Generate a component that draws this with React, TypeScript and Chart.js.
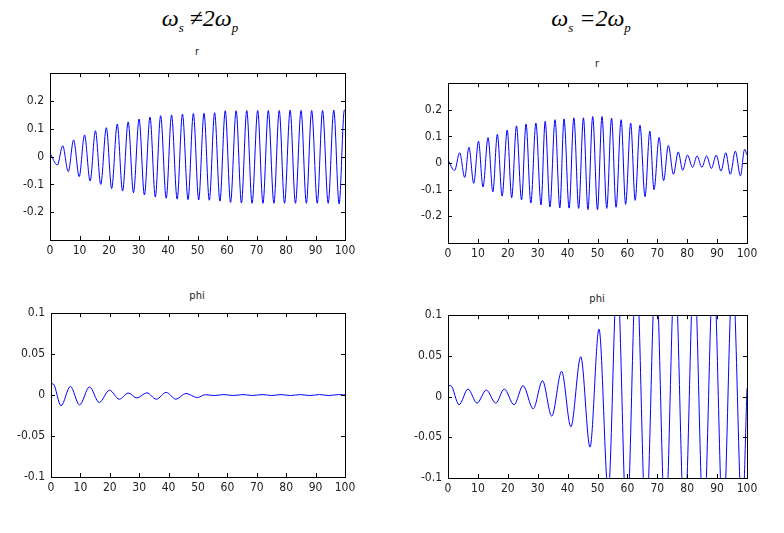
import React, { useEffect, useRef } from 'react';
import { Chart, registerables } from 'chart.js';

Chart.register(...registerables);

// ---------- data (extrema) ----------
const xTicks = [0, 10, 20, 30, 40, 50, 60, 70, 80, 90, 100];
const rTicks = [-0.2, -0.1, 0, 0.1, 0.2];
const phiTicks = [-0.1, -0.05, 0, 0.05, 0.1];

// r, ws != 2wp
const r1T = [0, 2.5, 4.3, 6.2, 8.0, 9.9, 11.7, 13.6, 15.4, 17.2, 19.1, 20.9, 22.8, 24.6, 26.5, 28.3, 30.2, 32.0, 33.9, 35.7, 37.5, 39.4, 41.2, 43.1, 44.9, 46.8, 48.6, 50.4, 52.2, 54.0, 55.8, 57.6, 59.4, 61.2, 63.1, 64.9, 66.7, 68.5, 70.4, 72.2, 74.0, 75.9, 77.7, 79.5, 81.4, 83.2, 85.1, 86.9, 88.7, 90.6, 92.4, 94.3, 96.2, 98.0, 99.8, 100];
const r1V = [0.012, -0.03, 0.039, -0.054, 0.06, -0.072, 0.078, -0.088, 0.093, -0.1, 0.104, -0.115, 0.117, -0.124, 0.125, -0.13, 0.135, -0.138, 0.142, -0.145, 0.147, -0.15, 0.15, -0.153, 0.153, -0.155, 0.155, -0.156, 0.156, -0.157, 0.158, -0.16, 0.165, -0.165, 0.165, -0.167, 0.166, -0.168, 0.166, -0.168, 0.166, -0.168, 0.166, -0.168, 0.167, -0.168, 0.166, -0.168, 0.166, -0.168, 0.166, -0.168, 0.167, -0.17, 0.168, 0.166];

// r, ws = 2wp
const r2T = [0, 2.2, 3.9, 5.6, 7.0, 8.6, 10.2, 11.7, 13.4, 15.0, 16.5, 18.1, 19.8, 21.3, 22.9, 24.6, 26.1, 27.7, 29.4, 31.1, 32.5, 34.1, 35.8, 37.4, 38.8, 40.5, 42.1, 43.7, 45.3, 46.8, 48.4, 50.0, 51.5, 53.1, 54.7, 56.2, 57.9, 59.4, 61.1, 62.6, 64.2, 65.9, 67.5, 68.9, 70.6, 72.1, 73.7, 75.4, 77.0, 78.5, 80.1, 81.8, 83.3, 84.9, 86.5, 88.1, 89.7, 91.3, 92.9, 94.4, 96.1, 97.8, 99.2, 100];
const r2V = [0.012, -0.028, 0.039, -0.054, 0.06, -0.076, 0.082, -0.09, 0.096, -0.108, 0.108, -0.124, 0.124, -0.13, 0.14, -0.138, 0.147, -0.15, 0.15, -0.157, 0.157, -0.165, 0.163, -0.168, 0.166, -0.169, 0.17, -0.17, 0.17, -0.175, 0.175, -0.175, 0.175, -0.17, 0.169, -0.166, 0.163, -0.155, 0.15, -0.14, 0.142, -0.126, 0.12, -0.1, 0.096, -0.066, 0.066, -0.042, 0.042, -0.027, 0.03, -0.016, 0.027, -0.016, 0.027, -0.02, 0.03, -0.03, 0.039, -0.042, 0.045, -0.048, 0.052, 0.03];

// phi, ws != 2wp
const p1T = [0, 0.8, 3.4, 6.6, 9.7, 13.1, 16.4, 19.9, 23.2, 26.3, 29.2, 32.6, 35.8, 39.2, 42.5, 45.9, 49.8, 52.5, 55.5, 58.8, 62.0, 65.3, 68.5, 71.8, 75.0, 78.3, 81.5, 84.8, 88.0, 91.3, 94.5, 97.8, 100];
const p1V = [0.014, 0.0135, -0.013, 0.0106, -0.012, 0.010, -0.009, 0.006, -0.005, 0.0025, -0.0035, 0.0028, -0.005, 0.0033, -0.005, 0.002, -0.003, 0.0005, -0.0005, 0.0006, -0.0005, 0.0006, -0.0005, 0.0006, -0.0005, 0.0006, -0.0005, 0.0006, -0.0005, 0.0006, -0.0005, 0.0006, 0.0002];

// phi, ws = 2wp
const p2T = [0, 0.9, 3.7, 6.7, 9.7, 12.8, 16.0, 18.8, 22.1, 25.1, 28.5, 31.6, 34.7, 38.0, 41.1, 44.4, 47.5, 50.5, 53.6, 56.6, 59.8, 63.0, 66.2, 69.5, 72.7, 75.9, 79.1, 82.3, 85.5, 88.8, 92.0, 95.2, 98.4, 100];
const p2V = [0.0134, 0.0134, -0.010, 0.0093, -0.008, 0.008, -0.008, 0.0093, -0.010, 0.0134, -0.015, 0.0195, -0.024, 0.031, -0.037, 0.049, -0.062, 0.083, -0.117, 0.15, -0.16, 0.16, -0.16, 0.16, -0.16, 0.16, -0.16, 0.16, -0.16, 0.16, -0.16, 0.15, -0.15, 0.01];

// ---------- styling ----------
const FONT = '"Liberation Sans Narrow", "DejaVu Sans Condensed", "Liberation Sans", Arial, sans-serif';

const boxPlugin = {
  id: 'matlabBox',
  afterDatasetsDraw(chart: any) {
    const { ctx, chartArea, scales } = chart;
    const { left, right, top, bottom } = chartArea;
    const x = scales.x;
    const y = scales.y;
    const tl = 4;
    ctx.save();
    ctx.strokeStyle = '#000';
    ctx.lineWidth = 1;
    ctx.beginPath();
    x.ticks.forEach((t: any) => {
      const px = Math.round(x.getPixelForValue(t.value)) + 0.5;
      ctx.moveTo(px, bottom);
      ctx.lineTo(px, bottom - tl);
      ctx.moveTo(px, top);
      ctx.lineTo(px, top + tl);
    });
    y.ticks.forEach((t: any) => {
      const py = Math.round(y.getPixelForValue(t.value)) + 0.5;
      ctx.moveTo(left, py);
      ctx.lineTo(left + tl, py);
      ctx.moveTo(right, py);
      ctx.lineTo(right - tl, py);
    });
    ctx.stroke();
    ctx.strokeRect(Math.round(left) + 0.5, Math.round(top) + 0.5, Math.round(right - left), Math.round(bottom - top));
    ctx.restore();
  },
};

function makeConfig(t: number[], v: number[], yMin: number, yMax: number, yTicks: number[], yw: number, padTop: number, padRight: number) {
  return {
    type: 'line',
    data: {
      datasets: [
        {
          data: t.map((x, i) => ({ x, y: v[i] })),
          borderColor: '#0000ff',
          borderWidth: 1,
          pointRadius: 0,
          cubicInterpolationMode: 'monotone',
          fill: false,
        },
      ],
    },
    options: {
      animation: false,
      responsive: false,
      layout: { padding: { top: padTop, right: padRight, left: 0, bottom: 0 } },
      plugins: { legend: { display: false }, tooltip: { enabled: false }, title: { display: false } },
      elements: { line: { capBezierPoints: false } },
      scales: {
        x: {
          type: 'linear',
          min: 0,
          max: 100,
          afterBuildTicks: (s: any) => {
            s.ticks = xTicks.map((value) => ({ value }));
          },
          afterFit: (s: any) => {
            s.height = 22;
          },
          grid: { display: false, drawTicks: false },
          border: { display: false },
          ticks: {
            font: { family: FONT, size: 12 },
            color: '#222',
            padding: 4,
            maxRotation: 0,
            autoSkip: false,
            callback: (val: any) => String(val),
          },
        },
        y: {
          type: 'linear',
          min: yMin,
          max: yMax,
          afterBuildTicks: (s: any) => {
            s.ticks = yTicks.map((value) => ({ value }));
          },
          afterFit: (s: any) => {
            s.width = yw;
          },
          grid: { display: false, drawTicks: false },
          border: { display: false },
          ticks: {
            font: { family: FONT, size: 12 },
            color: '#222',
            padding: 6,
            autoSkip: false,
            callback: (val: any) => String(val),
          },
        },
      },
    },
    plugins: [boxPlugin],
  };
}

type PanelProps = { cfg: any; left: number; top: number; width: number; height: number };

function Panel({ cfg, left, top, width, height }: PanelProps) {
  const ref = useRef<HTMLCanvasElement>(null);
  useEffect(() => {
    const chart = new Chart(ref.current as HTMLCanvasElement, cfg);
    return () => chart.destroy();
  }, []);
  return (
    <canvas
      ref={ref}
      width={width}
      height={height}
      style={{ position: 'absolute', left, top, width, height, display: 'block' }}
    />
  );
}

const smallTitle: React.CSSProperties = {
  position: 'absolute',
  transform: 'translate(-50%, -50%)',
  fontFamily: FONT,
  fontSize: 11,
  color: '#222',
  whiteSpace: 'nowrap',
  lineHeight: 1,
};

const bigTitle: React.CSSProperties = {
  position: 'absolute',
  transform: 'translate(-50%, -50%)',
  fontFamily: '"Liberation Serif", "DejaVu Serif", serif',
  fontStyle: 'italic',
  fontSize: 24,
  color: '#000',
  whiteSpace: 'nowrap',
  lineHeight: 1,
};

const subStyle: React.CSSProperties = { fontSize: 13, verticalAlign: 'sub', lineHeight: 1 };

export default function App() {
  return (
    <div style={{ position: 'absolute', left: 0, top: 0, width: 784, height: 533, background: '#fff', overflow: 'hidden' }}>
      <div style={{ ...bigTitle, left: 200, top: 20 }}>
        ω<span style={subStyle}>s</span> ≠2ω<span style={subStyle}>p</span>
      </div>
      <div style={{ ...bigTitle, left: 591, top: 20 }}>
        ω<span style={subStyle}>s</span> =2ω<span style={subStyle}>p</span>
      </div>

      <div style={{ ...smallTitle, left: 197, top: 51 }}>r</div>
      <div style={{ ...smallTitle, left: 597, top: 63 }}>r</div>
      <div style={{ ...smallTitle, left: 197, top: 295 }}>phi</div>
      <div style={{ ...smallTitle, left: 597, top: 298 }}>phi</div>

      <Panel cfg={makeConfig(r1T, r1V, -0.3, 0.3, rTicks, 50, 13, 15)} left={0} top={60} width={360} height={202} />
      <Panel cfg={makeConfig(r2T, r2V, -0.3, 0.3, rTicks, 53, 13, 18)} left={395} top={70} width={370} height={195} />
      <Panel cfg={makeConfig(p1T, p1V, -0.1, 0.1, phiTicks, 51, 11, 15)} left={0} top={300} width={360} height={199} />
      <Panel cfg={makeConfig(p2T, p2V, -0.1, 0.1, phiTicks, 53, 12, 18)} left={395} top={302} width={370} height={198} />
    </div>
  );
}
